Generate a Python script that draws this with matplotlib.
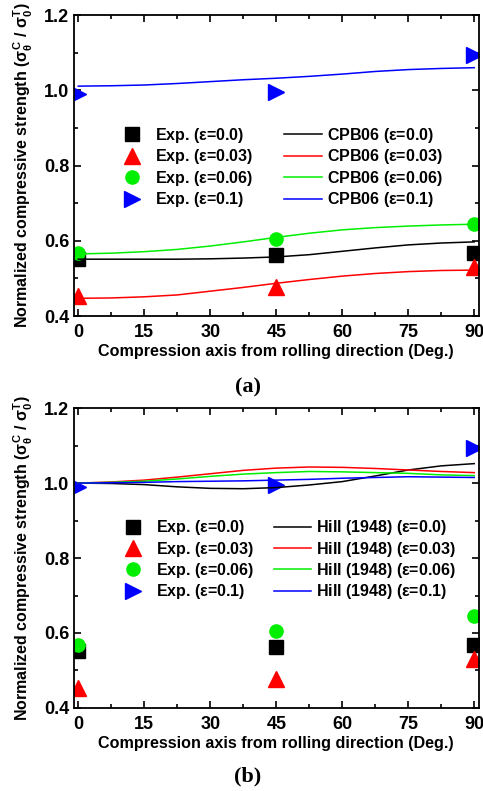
import matplotlib
matplotlib.use("Agg")
import matplotlib.pyplot as plt

plt.rcParams['font.family'] = ['Liberation Sans', 'DejaVu Sans']
plt.rcParams['font.weight'] = 'bold'
plt.rcParams['mathtext.fontset'] = 'custom'
plt.rcParams['mathtext.rm'] = 'Liberation Sans:bold'
plt.rcParams['mathtext.it'] = 'Liberation Sans:bold'

# experimental points
exp_angles = [0, 45, 90]
exp_00 = [0.551, 0.562, 0.567]
exp_03 = [0.452, 0.478, 0.531]
exp_06 = [0.567, 0.604, 0.645]
exp_10 = [0.989, 0.995, 1.094]

strains = ['0.0', '0.03', '0.06', '0.1']
colors = ['black', 'red', '#00ee00', 'blue']
markers = ['s', '^', 'o', '>']

# model curves, read every 7.5 deg
ang = [0, 7.5, 15, 22.5, 30, 37.5, 45, 52.5, 60, 67.5, 75, 82.5, 90]
cpb_00 = [0.551, 0.551, 0.551, 0.551, 0.552, 0.554, 0.557, 0.563, 0.572, 0.581, 0.589, 0.594, 0.597]
cpb_03 = [0.447, 0.448, 0.451, 0.456, 0.466, 0.476, 0.487, 0.497, 0.506, 0.513, 0.518, 0.521, 0.522]
cpb_06 = [0.565, 0.567, 0.571, 0.577, 0.586, 0.597, 0.609, 0.620, 0.629, 0.635, 0.639, 0.642, 0.644]
cpb_10 = [1.011, 1.012, 1.014, 1.018, 1.023, 1.028, 1.032, 1.037, 1.043, 1.050, 1.055, 1.058, 1.060]

hill_00 = [1.000, 0.999, 0.996, 0.990, 0.986, 0.985, 0.988, 0.995, 1.004, 1.019, 1.035, 1.046, 1.052]
hill_03 = [1.000, 1.003, 1.008, 1.016, 1.025, 1.034, 1.040, 1.043, 1.042, 1.039, 1.035, 1.031, 1.028]
hill_06 = [1.000, 1.002, 1.005, 1.011, 1.018, 1.024, 1.028, 1.031, 1.030, 1.028, 1.026, 1.022, 1.020]
hill_10 = [1.000, 1.001, 1.002, 1.004, 1.005, 1.006, 1.008, 1.010, 1.013, 1.015, 1.017, 1.016, 1.015]

exps = [exp_00, exp_03, exp_06, exp_10]
msizes = [9.5, 12, 9.5, 11]

fig = plt.figure(figsize=(4.83, 7.91), dpi=100)
ax_a = fig.add_axes([0.153, 0.6005, 0.838, 0.3805])
ax_b = fig.add_axes([0.153, 0.105, 0.838, 0.379])


def draw_panel(ax, curves, name, tag, leg_xy, colsp, tag_y):
    for i in range(4):
        ax.plot(exp_angles, exps[i], linestyle='none', marker=markers[i],
                color=colors[i], markersize=msizes[i],
                label='Exp. ($\\epsilon$=%s)' % strains[i])
    for i in range(4):
        ax.plot(ang, curves[i], color=colors[i], lw=1.1,
                label='%s ($\\epsilon$=%s)' % (name, strains[i]))
    ax.set_xlim(-1, 91)
    ax.set_ylim(0.4, 1.2)
    ax.set_xticks([0, 15, 30, 45, 60, 75, 90])
    ax.set_xticks([7.5, 22.5, 37.5, 52.5, 67.5, 82.5], minor=True)
    ax.set_yticks([0.4, 0.6, 0.8, 1.0, 1.2])
    ax.set_yticks([0.5, 0.7, 0.9, 1.1], minor=True)
    ax.tick_params(which='both', direction='in', top=True, right=True, width=1.2)
    ax.tick_params(which='major', length=5, labelsize=13)
    ax.tick_params(axis='x', which='major', pad=6)
    ax.tick_params(which='minor', length=3)
    for s in ax.spines.values():
        s.set_linewidth(1.3)
    ax.set_xlabel('Compression axis from rolling direction (Deg.)', fontsize=11.6,
                  fontweight='bold', labelpad=2)
    ax.set_ylabel('Normalized compressive strength ($\\sigma_\\theta^C$ / $\\sigma_0^T$)',
                  fontsize=11.5, fontweight='bold', labelpad=6)
    ax.legend(ncol=2, frameon=False, loc='upper left', bbox_to_anchor=leg_xy,
              borderaxespad=0, borderpad=0,
              fontsize=11.5, handlelength=2.35, handletextpad=0.3, columnspacing=colsp,
              labelspacing=0.15, numpoints=1)
    ax.text(0.43, tag_y, tag, transform=ax.transAxes,
            ha='center', va='center', fontsize=16, fontweight='bold',
            family='Liberation Serif')


draw_panel(ax_a, [cpb_00, cpb_03, cpb_06, cpb_10], 'CPB06', '(a)',
           (0.096, 0.631), 1.95, -0.236)
draw_panel(ax_b, [hill_00, hill_03, hill_06, hill_10], 'Hill (1948)', '(b)',
           (0.099, 0.633), 1.2, -0.23)

fig.savefig('out.png', dpi=100)
